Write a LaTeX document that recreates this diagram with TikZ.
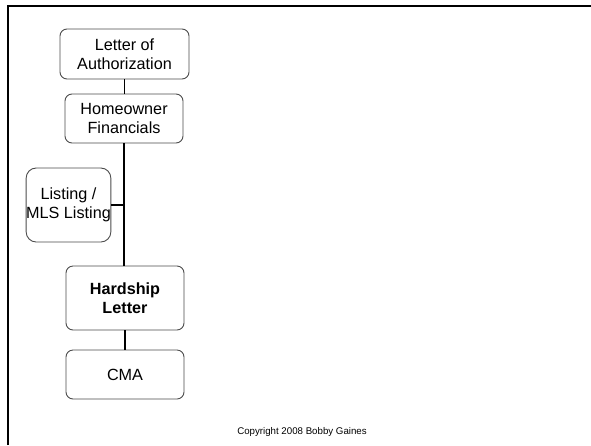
\documentclass[tikz,border=0pt]{standalone}
\usepackage{fontspec}
\setmainfont{Liberation Sans}
\begin{document}
\begin{tikzpicture}[x=1pt,y=-1pt,
  docbox/.style={draw=black!70, line width=0.9pt, rounded corners=7pt, fill=white,
    align=center, inner sep=0pt, font=\fontsize{16.2}{19.3}\selectfont},
  link/.style={draw=black, line width=1.8pt},
  frameline/.style={draw=black, line width=2.6pt}]
\useasboundingbox (0,0) rectangle (591,445);

% slide frame (left and top edges)
\coordinate (fbl) at (8,445);
\coordinate (ftl) at (8,6);
\coordinate (ftr) at (591,6);
\draw[frameline] (fbl) -- (ftl) -- (ftr);

% documents
\node[docbox, minimum width=129pt, minimum height=50pt] (auth) at (124.5,54) {Letter of\\Authorization};
\node[docbox, minimum width=118pt, minimum height=49pt] (fin) at (124,118.5) {Homeowner\\Financials};
\node[docbox, minimum width=83pt, minimum height=74pt, rounded corners=10pt] (mls) at (68.5,205) {Listing /\\MLS Listing};
\node[docbox, minimum width=118pt, minimum height=64pt, font=\fontsize{16.2}{19.3}\selectfont\bfseries] (hard) at (125,298) {Hardship\\Letter};
\node[docbox, minimum width=118pt, minimum height=49pt] (cma) at (125,374.5) {CMA};

% connectors
\draw[link] (auth.south) -- (auth.south |- fin.north);
\draw[link] (fin.south) -- (fin.south |- hard.north);
\draw[link] (mls.east) -- (mls.east -| fin.south);
\draw[link] (hard.south) -- (hard.south |- cma.north);

% footer
\node[font=\fontsize{9.7}{11}\selectfont] (copy) at (302,432) {Copyright 2008 Bobby Gaines};
\end{tikzpicture}
\end{document}
